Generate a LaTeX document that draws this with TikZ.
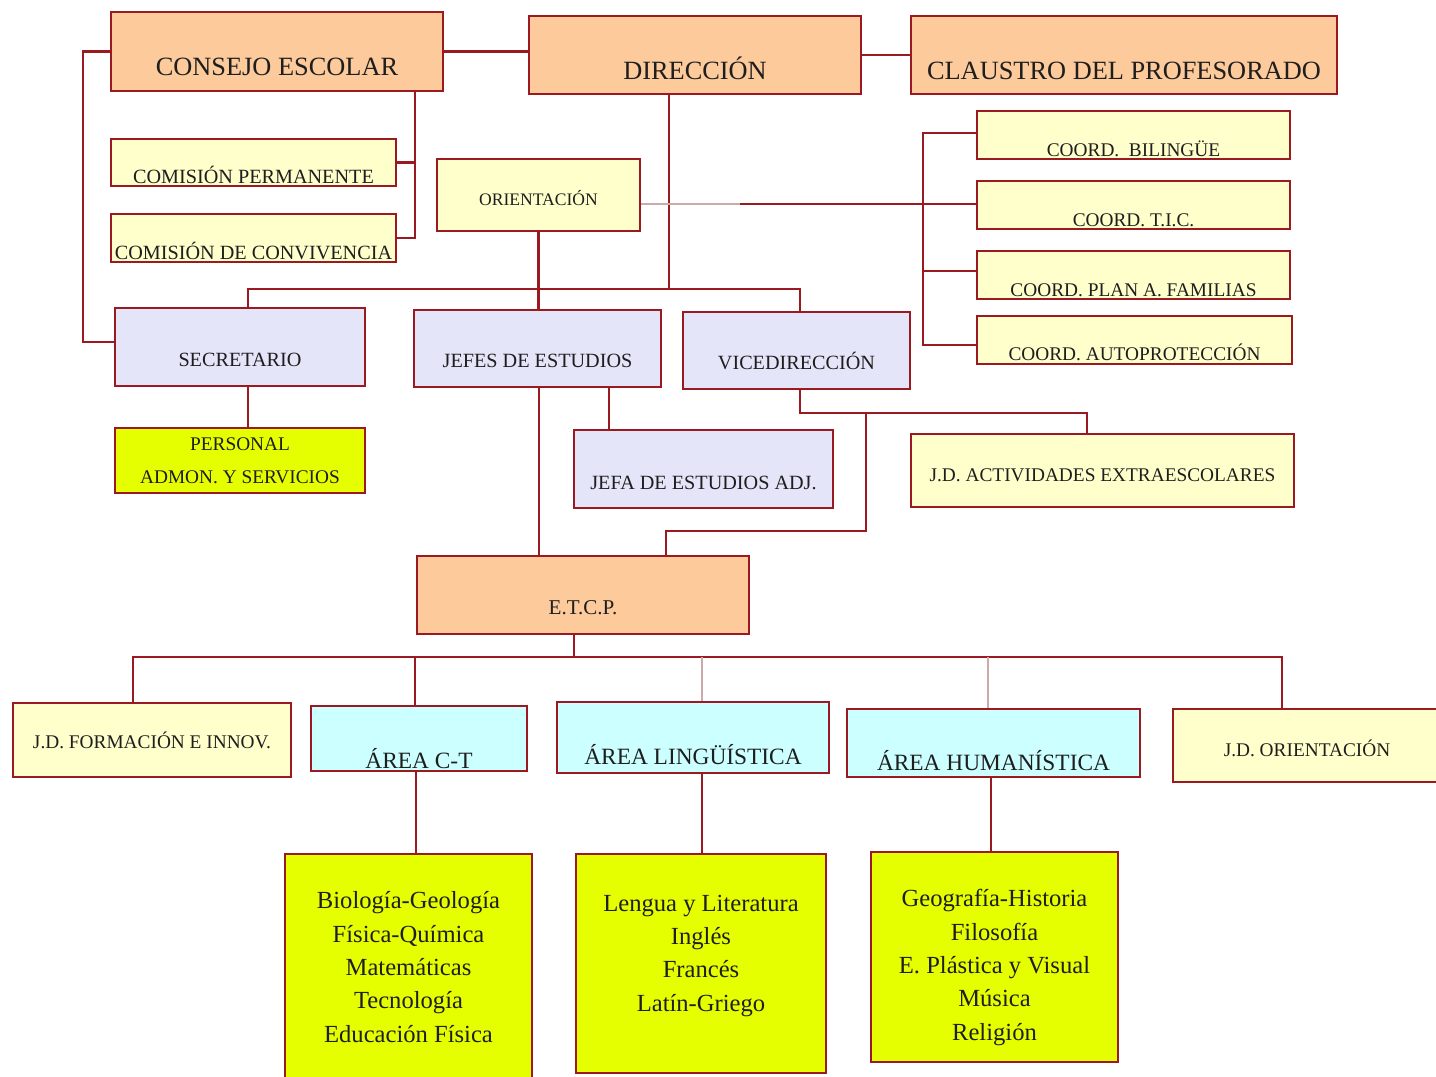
\documentclass[tikz,border=0pt]{standalone}
\usepackage{fontspec}
\setmainfont{Liberation Serif}
\definecolor{bord}{RGB}{155,25,32}
\definecolor{bordlight}{RGB}{205,170,170}
\definecolor{txt}{RGB}{30,30,30}
\definecolor{cnaranja}{RGB}{252,202,155}
\definecolor{ccrema}{RGB}{255,255,204}
\definecolor{clila}{RGB}{229,229,250}
\definecolor{cceleste}{RGB}{204,255,255}
\definecolor{clima}{RGB}{230,255,0}

\begin{document}
\begin{tikzpicture}[x=0.02cm,y=-0.02cm,
	box/.style={draw=bord,line width=1.2pt,inner sep=0pt,text=txt,align=center},
	tb/.style={text height=#1,text depth=0pt},
	naranja/.style={box,fill=cnaranja},
	crema/.style={box,fill=ccrema},
	lila/.style={box,fill=clila},
	celeste/.style={box,fill=cceleste},
	lima/.style={box,fill=clima},
	ln/.style={draw=bord,line width=1.25pt},
	faint/.style={draw=bordlight,line width=1.25pt}]
	\useasboundingbox (0,0) rectangle (1436,1076);
	\tikzstyle{every node}+=[inner sep=0pt]
	\node [naranja,minimum width=6.64cm,minimum height=1.58cm,tb=0.94cm,font=\fontsize{15}{18}\selectfont] (consejo) at (277,51.5) {CONSEJO ESCOLAR};
	\node [naranja,minimum width=6.64cm,minimum height=1.56cm,tb=0.96cm,font=\fontsize{15}{18}\selectfont] (direccion) at (695,55) {DIRECCIÓN};
	\node [naranja,minimum width=8.52cm,minimum height=1.56cm,tb=0.96cm,font=\fontsize{15}{18}\selectfont] (claustro) at (1124,55) {CLAUSTRO DEL PROFESORADO};
	\node [crema,minimum width=5.70cm,minimum height=0.94cm,tb=0.82cm,font=\fontsize{11.5}{14}\selectfont] (comperm) at (253.5,162.5) {COMISIÓN PERMANENTE};
	\node [crema,minimum width=5.70cm,minimum height=0.96cm,tb=0.84cm,font=\fontsize{11.5}{14}\selectfont] (comconv) at (253.5,238) {COMISIÓN DE CONVIVENCIA};
	\node [crema,minimum width=4.06cm,minimum height=1.44cm,tb=0.40cm,font=\fontsize{10}{12}\selectfont] (orient) at (538.5,195) {ORIENTACIÓN};
	\node [crema,minimum width=6.26cm,minimum height=0.96cm,tb=0.84cm,font=\fontsize{11}{13}\selectfont] (bilingue) at (1133.5,135) {COORD.\ \ BILINGÜE};
	\node [crema,minimum width=6.26cm,minimum height=0.96cm,tb=0.84cm,font=\fontsize{11}{13}\selectfont] (tic) at (1133.5,205) {COORD. T.I.C.};
	\node [crema,minimum width=6.26cm,minimum height=0.96cm,tb=0.84cm,font=\fontsize{11}{13}\selectfont] (familias) at (1133.5,275) {COORD. PLAN A. FAMILIAS};
	\node [crema,minimum width=6.30cm,minimum height=0.96cm,tb=0.80cm,font=\fontsize{11}{13}\selectfont] (autoprot) at (1134.5,340) {COORD. AUTOPROTECCIÓN};
	\node [lila,minimum width=5.00cm,minimum height=1.56cm,tb=0.76cm,font=\fontsize{11.5}{14}\selectfont] (secretario) at (240,347) {SECRETARIO};
	\node [lila,minimum width=4.94cm,minimum height=1.54cm,tb=0.74cm,font=\fontsize{11.5}{14}\selectfont] (jefes) at (537.5,348.5) {JEFES DE ESTUDIOS};
	\node [lila,minimum width=4.54cm,minimum height=1.54cm,tb=0.74cm,font=\fontsize{11.5}{14}\selectfont] (vice) at (796.5,350.5) {VICEDIRECCIÓN};
	\node [lima,minimum width=5.00cm,minimum height=1.30cm,font=\fontsize{11}{19}\selectfont] (personal) at (240,460.5) {PERSONAL\\ADMON. Y SERVICIOS};
	\node [lila,minimum width=5.18cm,minimum height=1.56cm,tb=0.80cm,font=\fontsize{11.5}{14}\selectfont] (jefa) at (703.5,469) {JEFA DE ESTUDIOS ADJ.};
	\node [crema,minimum width=7.66cm,minimum height=1.46cm,tb=0.42cm,font=\fontsize{11}{13}\selectfont] (extraesc) at (1102.5,470.5) {J.D. ACTIVIDADES EXTRAESCOLARES};
	\node [naranja,minimum width=6.64cm,minimum height=1.56cm,tb=0.76cm,font=\fontsize{12}{14}\selectfont] (etcp) at (583,595) {E.T.C.P.};
	\node [crema,minimum width=5.56cm,minimum height=1.48cm,tb=0.32cm,font=\fontsize{11}{13}\selectfont] (formacion) at (152,740) {J.D. FORMACIÓN E INNOV.};
	\node [celeste,minimum width=4.32cm,minimum height=1.30cm,tb=1.18cm,font=\fontsize{13.3}{16}\selectfont] (areact) at (419,738.5) {ÁREA C-T};
	\node [celeste,minimum width=5.44cm,minimum height=1.42cm,tb=1.06cm,font=\fontsize{13.3}{16}\selectfont] (arealing) at (693,737.5) {ÁREA LINGÜÍSTICA};
	\node [celeste,minimum width=5.86cm,minimum height=1.36cm,tb=1.08cm,font=\fontsize{13.3}{16}\selectfont] (areahum) at (993.5,743) {ÁREA HUMANÍSTICA};
	\node [crema,minimum width=5.36cm,minimum height=1.46cm,tb=0.42cm,font=\fontsize{11}{13}\selectfont] (jdorient) at (1307,745.5) {J.D. ORIENTACIÓN};
	\node [lima,minimum width=4.94cm,minimum height=4.52cm,font=\fontsize{14}{19}\selectfont] (depct) at (408.5,967) {Biología-Geología\\Física-Química\\Matemáticas\\Tecnología\\Educación Física};
	\node [lima,minimum width=5.00cm,minimum height=4.38cm,font=\fontsize{14}{19}\selectfont] (depling) at (701,963.5) {Lengua y Literatura\\Inglés\\Francés\\Latín-Griego\\[-7pt]\mbox{}};
	\node [lima,minimum width=4.94cm,minimum height=4.20cm,font=\fontsize{14}{19}\selectfont] (dephum) at (994.5,957) {Geografía-Historia\\Filosofía\\E. Plástica y Visual\\Música\\Religión\\[-28pt]\mbox{}};
	\draw [ln] (consejo.east) -- (consejo.east -| direccion.west);
	\draw [ln] (direccion) -- (claustro);
	\draw [ln] (consejo.west) -- ++(-27,0) |- ([yshift=3pt]secretario.west);
	\draw [ln] (consejo.south -| 415,0) |- (comconv.east);
	\draw [ln] (comperm.east) -- (comperm.east -| 415,0);
	\coordinate (hub) at (669,289);
	\draw [ln] (direccion.south -| hub) -- (hub);
	\draw [ln] (secretario.north -| 248,0) |- (hub) -| (vice.north -| 800,0);
	\draw [ln] (orient.south) -- (orient.south |- jefes.north);
	\coordinate (og) at (740,204);
	\draw [faint] (orient.east |- og) -- (og);
	\draw [ln] (og) -- (og -| tic.west);
	\coordinate (cb) at (923,133);
	\draw [ln] (bilingue.west |- cb) -- (cb) |- ([yshift=-3pt]autoprot.west);
	\draw [ln] (cb |- 0,271) -- (familias.west |- 0,271);
	\draw [ln] (secretario.south -| 248,0) -- (personal.north -| 248,0);
	\draw [ln] (jefes.south -| 539,0) -- (etcp.north -| 539,0);
	\draw [ln] (jefes.south -| 609,0) -- (jefa.north -| 609,0);
	\coordinate (vx) at (866,413);
	\draw [ln] (vice.south -| 800,0) |- (vx) -| (extraesc.north -| 1087,0);
	\draw [ln] (vx) |- (666,531) -- (etcp.north -| 666,0);
	\coordinate (eb) at (574,657);
	\draw [ln] (etcp.south -| eb) -- (eb);
	\draw [ln] (formacion.north -| 133,0) |- (eb) -| (jdorient.north -| 1282,0);
	\draw [ln] (areact.north -| 415,0) -- (eb -| 415,0);
	\draw [faint] (arealing.north -| 702,0) -- (eb -| 702,0);
	\draw [faint] (areahum.north -| 988,0) -- (eb -| 988,0);
	\draw [ln] (areact.south -| 416,0) -- (depct.north -| 416,0);
	\draw [ln] (arealing.south -| 702,0) -- (depling.north -| 702,0);
	\draw [ln] (areahum.south -| 991,0) -- (dephum.north -| 991,0);
\end{tikzpicture}
\end{document}
